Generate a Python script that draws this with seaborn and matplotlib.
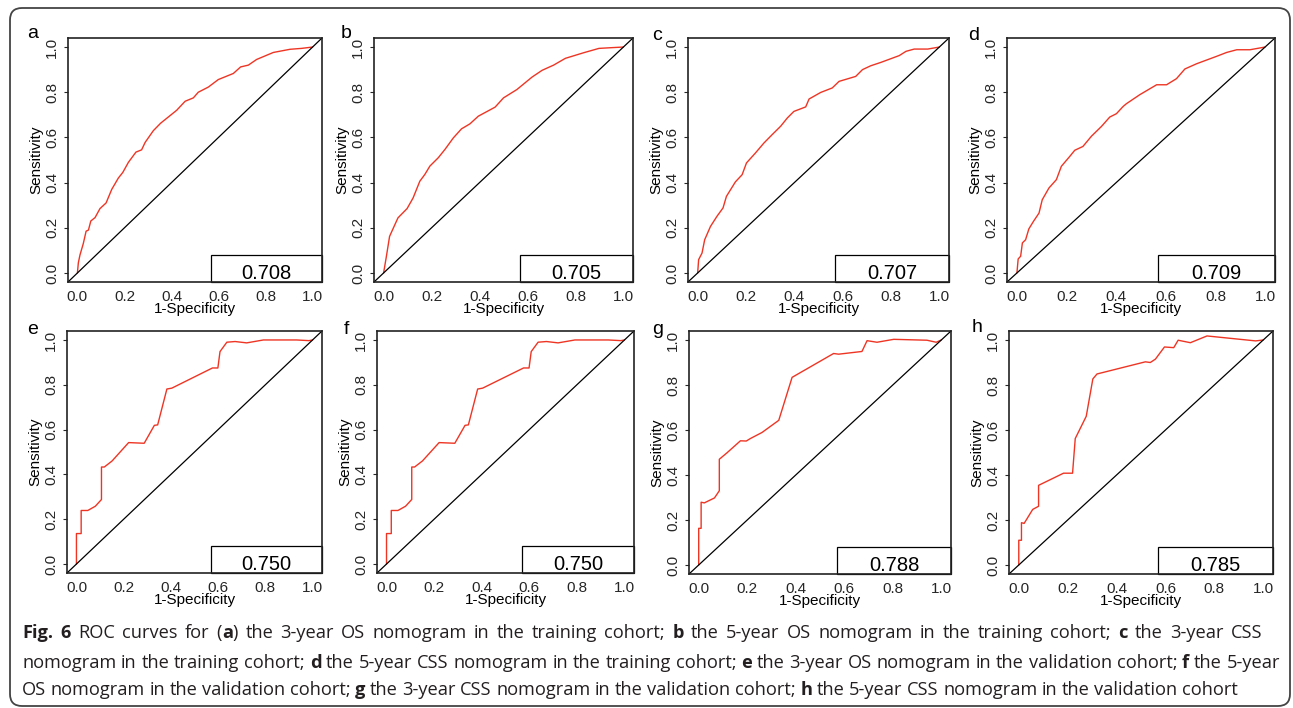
import matplotlib
matplotlib.use("Agg")
import numpy as np
import pandas as pd
import seaborn as sns
import matplotlib.pyplot as plt
from matplotlib import font_manager
from matplotlib.patches import Rectangle, FancyBboxPatch

# ROC curve points (1-specificity, sensitivity)
a_fpr = [0, 0.004, 0.011, 0.025, 0.037, 0.047, 0.057, 0.075, 0.096, 0.122, 0.146, 0.174, 0.193,
         0.217, 0.249, 0.273, 0.288, 0.323, 0.354, 0.391, 0.422, 0.458, 0.493, 0.514, 0.557,
         0.599, 0.663, 0.694, 0.727, 0.762, 0.833, 0.904, 0.953, 1.0]
a_tpr = [0, 0.045, 0.08, 0.13, 0.185, 0.19, 0.23, 0.245, 0.285, 0.31, 0.37, 0.42, 0.445,
         0.49, 0.535, 0.545, 0.578, 0.63, 0.663, 0.694, 0.72, 0.76, 0.775, 0.80, 0.823,
         0.856, 0.883, 0.912, 0.92, 0.945, 0.976, 0.99, 0.994, 1.0]

b_fpr = [0, 0.011, 0.025, 0.042, 0.06, 0.098, 0.123, 0.151, 0.172, 0.193, 0.228, 0.256, 0.291,
         0.325, 0.36, 0.395, 0.465, 0.5, 0.556, 0.619, 0.661, 0.709, 0.758, 0.835, 0.898,
         0.947, 1.0]
b_tpr = [0, 0.069, 0.162, 0.202, 0.244, 0.285, 0.332, 0.406, 0.436, 0.473, 0.51, 0.547, 0.598,
         0.638, 0.66, 0.694, 0.734, 0.775, 0.812, 0.867, 0.897, 0.92, 0.95, 0.975, 0.994,
         0.997, 1.0]

c_fpr = [0, 0.004, 0.018, 0.029, 0.053, 0.08, 0.105, 0.119, 0.156, 0.184, 0.202, 0.239, 0.274,
         0.308, 0.343, 0.371, 0.398, 0.447, 0.461, 0.509, 0.557, 0.585, 0.654, 0.682, 0.716,
         0.758, 0.834, 0.862, 0.896, 0.952, 1.0]
c_tpr = [0, 0.059, 0.088, 0.147, 0.206, 0.251, 0.288, 0.339, 0.403, 0.435, 0.487, 0.531, 0.575,
         0.612, 0.649, 0.686, 0.715, 0.735, 0.77, 0.799, 0.819, 0.848, 0.87, 0.9, 0.917,
         0.932, 0.962, 0.981, 0.991, 0.991, 1.0]

d_fpr = [0, 0.005, 0.015, 0.022, 0.035, 0.048, 0.067, 0.089, 0.102, 0.129, 0.159, 0.179, 0.213,
         0.233, 0.266, 0.3, 0.341, 0.374, 0.401, 0.428, 0.441, 0.495, 0.563, 0.603, 0.643,
         0.677, 0.724, 0.805, 0.845, 0.886, 0.939, 1.0]
d_tpr = [0, 0.062, 0.074, 0.133, 0.147, 0.195, 0.229, 0.265, 0.324, 0.376, 0.413, 0.472, 0.516,
         0.543, 0.56, 0.605, 0.649, 0.69, 0.705, 0.737, 0.749, 0.789, 0.833, 0.833, 0.86,
         0.903, 0.926, 0.959, 0.976, 0.988, 0.988, 1.0]

e_fpr = [0, 0, 0.02, 0.02, 0.048, 0.08, 0.106, 0.106, 0.118, 0.151, 0.221, 0.287, 0.33, 0.344,
         0.383, 0.404, 0.576, 0.599, 0.608, 0.637, 0.672, 0.721, 0.792, 0.932, 0.985, 1.0]
e_tpr = [0, 0.136, 0.136, 0.239, 0.239, 0.258, 0.288, 0.433, 0.433, 0.46, 0.542, 0.539, 0.619,
         0.621, 0.781, 0.785, 0.875, 0.875, 0.948, 0.99, 0.993, 0.987, 1.0, 1.0, 0.997, 1.0]

f_fpr = e_fpr
f_tpr = e_tpr

g_fpr = [0, 0, 0.01, 0.01, 0.023, 0.065, 0.085, 0.085, 0.117, 0.172, 0.196, 0.213, 0.261, 0.33,
         0.385, 0.556, 0.577, 0.673, 0.694, 0.735, 0.804, 0.941, 0.979, 1.0]
g_tpr = [0, 0.163, 0.163, 0.279, 0.276, 0.298, 0.33, 0.47, 0.499, 0.552, 0.551, 0.562, 0.589,
         0.643, 0.834, 0.94, 0.937, 0.949, 0.997, 0.99, 1.003, 0.999, 0.99, 1.0]

h_fpr = [0, 0, 0.011, 0.011, 0.022, 0.057, 0.081, 0.081, 0.183, 0.22, 0.231, 0.276, 0.303, 0.32,
         0.518, 0.538, 0.559, 0.596, 0.634, 0.652, 0.702, 0.77, 0.969, 1.0]
h_tpr = [0, 0.11, 0.11, 0.188, 0.185, 0.247, 0.261, 0.354, 0.408, 0.408, 0.562, 0.661, 0.827,
         0.849, 0.903, 0.9, 0.915, 0.969, 0.966, 0.999, 0.988, 1.018, 0.996, 1.0]

letters = ["a", "b", "c", "d", "e", "f", "g", "h"]
auc_labels = ["0.708", "0.705", "0.707", "0.709", "0.750", "0.750", "0.788", "0.785"]
curves = [(a_fpr, a_tpr), (b_fpr, b_tpr), (c_fpr, c_tpr), (d_fpr, d_tpr),
          (e_fpr, e_tpr), (f_fpr, f_tpr), (g_fpr, g_tpr), (h_fpr, h_tpr)]
ticks = [0.0, 0.2, 0.4, 0.6, 0.8, 1.0]
tick_labels = ["0.0", "0.2", "0.4", "0.6", "0.8", "1.0"]
diag = (0, 0)

caption_lines = [
    [("Fig. 6", True), (" ROC curves for (", False), ("a", True),
     (") the 3-year OS nomogram in the training cohort; ", False), ("b", True),
     (" the 5-year OS nomogram in the training cohort; ", False), ("c", True),
     (" the 3-year CSS", False)],
    [("nomogram in the training cohort; ", False), ("d", True),
     (" the 5-year CSS nomogram in the training cohort; ", False), ("e", True),
     (" the 3-year OS nomogram in the validation cohort; ", False), ("f", True),
     (" the 5-year", False)],
    [("OS nomogram in the validation cohort; ", False), ("g", True),
     (" the 3-year CSS nomogram in the validation cohort; ", False), ("h", True),
     (" the 5-year CSS nomogram in the validation cohort", False)],
]
caption_ends = [1262, 1280, 1238]

sns.set_style("white")
plt.rcParams["font.family"] = ["Liberation Sans", "DejaVu Sans"]
plt.rcParams["text.color"] = "black"
plt.rcParams["axes.labelcolor"] = "black"

names = {f.name for f in font_manager.fontManager.ttflist}
if "Liberation Sans Narrow" in names:
    auc_font, auc_size = "Liberation Sans Narrow", 16
else:
    auc_font, auc_size = "Liberation Sans", 14.5
cap_font = "Open Sans" if "Open Sans" in names else "Liberation Sans"

RED = "#ee3524"
W, H = 1293, 708
fig = plt.figure(figsize=(W / 100, H / 100), dpi=100)

# axes boxes in pixels: left, top, right, bottom
boxes = [(68, 38, 322, 282), (374, 38, 633, 282), (688, 38, 949, 282), (1007, 38, 1275, 282),
         (67, 331, 322, 573), (377, 331, 634, 573), (689, 331, 951, 574), (1009, 331, 1273, 574)]
letter_pos = [(33, 33), (346, 34), (657, 35), (974, 35), (33, 329), (346, 329), (658, 329), (977, 328)]

for i, (fpr, tpr) in enumerate(curves):
    l, t, r, b = boxes[i]
    ax = fig.add_axes([l / W, 1 - b / H, (r - l) / W, (b - t) / H])
    df = pd.DataFrame({"fpr": fpr, "tpr": tpr})
    sns.lineplot(data=df, x="fpr", y="tpr", sort=False, estimator=None,
                 color=RED, lw=1.0, ax=ax)
    ax.axline(diag, slope=1, color="black", lw=0.9)
    ax.set_xlim(-0.04, 1.04)
    ax.set_ylim(-0.04, 1.04)
    ax.set_xticks(ticks, tick_labels)
    ax.set_yticks(ticks, tick_labels)
    ax.tick_params(axis="x", length=0, pad=5.5, labelsize=11)
    ax.tick_params(axis="y", length=3, width=0.8, pad=3.5, labelsize=11,
                   labelrotation=90, left=True)
    for lab in ax.get_yticklabels():
        lab.set_va("center")
    for s in ax.spines.values():
        s.set_color("#222")
        s.set_linewidth(1.2)
    ax.set_xlabel("1-Specificity", fontsize=11, labelpad=-1)
    ax.set_ylabel("Sensitivity", fontsize=11, labelpad=1.5)
    ax.add_patch(Rectangle((0.57, -0.04), 0.47, 0.12, fill=False, ec="black",
                           lw=0.9, clip_on=False))
    ax.text(0.805, -0.004, auc_labels[i], ha="center", va="center",
            fontsize=auc_size, family=auc_font)
    lx, ly = letter_pos[i]
    fig.text(lx / W, 1 - ly / H, letters[i], ha="center", va="center", fontsize=14)

# frame round the whole figure
fig.add_artist(FancyBboxPatch((10, 2), 1280, 698, boxstyle="round,pad=0,rounding_size=12",
                              transform=None, fill=False, ec="#444", lw=1.3))

# caption with bold pieces; size from the last line, other lines justified
renderer = fig.canvas.get_renderer()


def text_width(s, size, bold):
    t = fig.text(0, 0, s, fontsize=size, family=cap_font,
                 weight="bold" if bold else "normal")
    w = t.get_window_extent(renderer).width
    t.remove()
    return w


def glyphs_and_spaces(pieces, size):
    # width of the words alone, and the number of spaces between them
    g, n = 0, 0
    for s, bold in pieces:
        for word in s.split(" "):
            if word:
                g += text_width(word, size, bold)
        n += s.count(" ")
    return g, n


x0 = 22
base = 12
sp_base = text_width("n n", base, False) - text_width("nn", base, False)
g3, n3 = glyphs_and_spaces(caption_lines[2], base)
cap_size = base * (caption_ends[2] - x0) / (g3 + n3 * sp_base)

baselines = [638, 668, 695]
for pieces, yb, xend in zip(caption_lines, baselines, caption_ends):
    g, n = glyphs_and_spaces(pieces, cap_size)
    space_w = (xend - x0 - g) / n
    x = x0
    for s, bold in pieces:
        for j, word in enumerate(s.split(" ")):
            if j:
                x += space_w
            if word:
                t = fig.text(x / W, 1 - yb / H, word, fontsize=cap_size, family=cap_font,
                             weight="bold" if bold else "normal", color="#231f20",
                             ha="left", va="baseline")
                x += t.get_window_extent(renderer).width

fig.savefig("out.png", dpi=100)
